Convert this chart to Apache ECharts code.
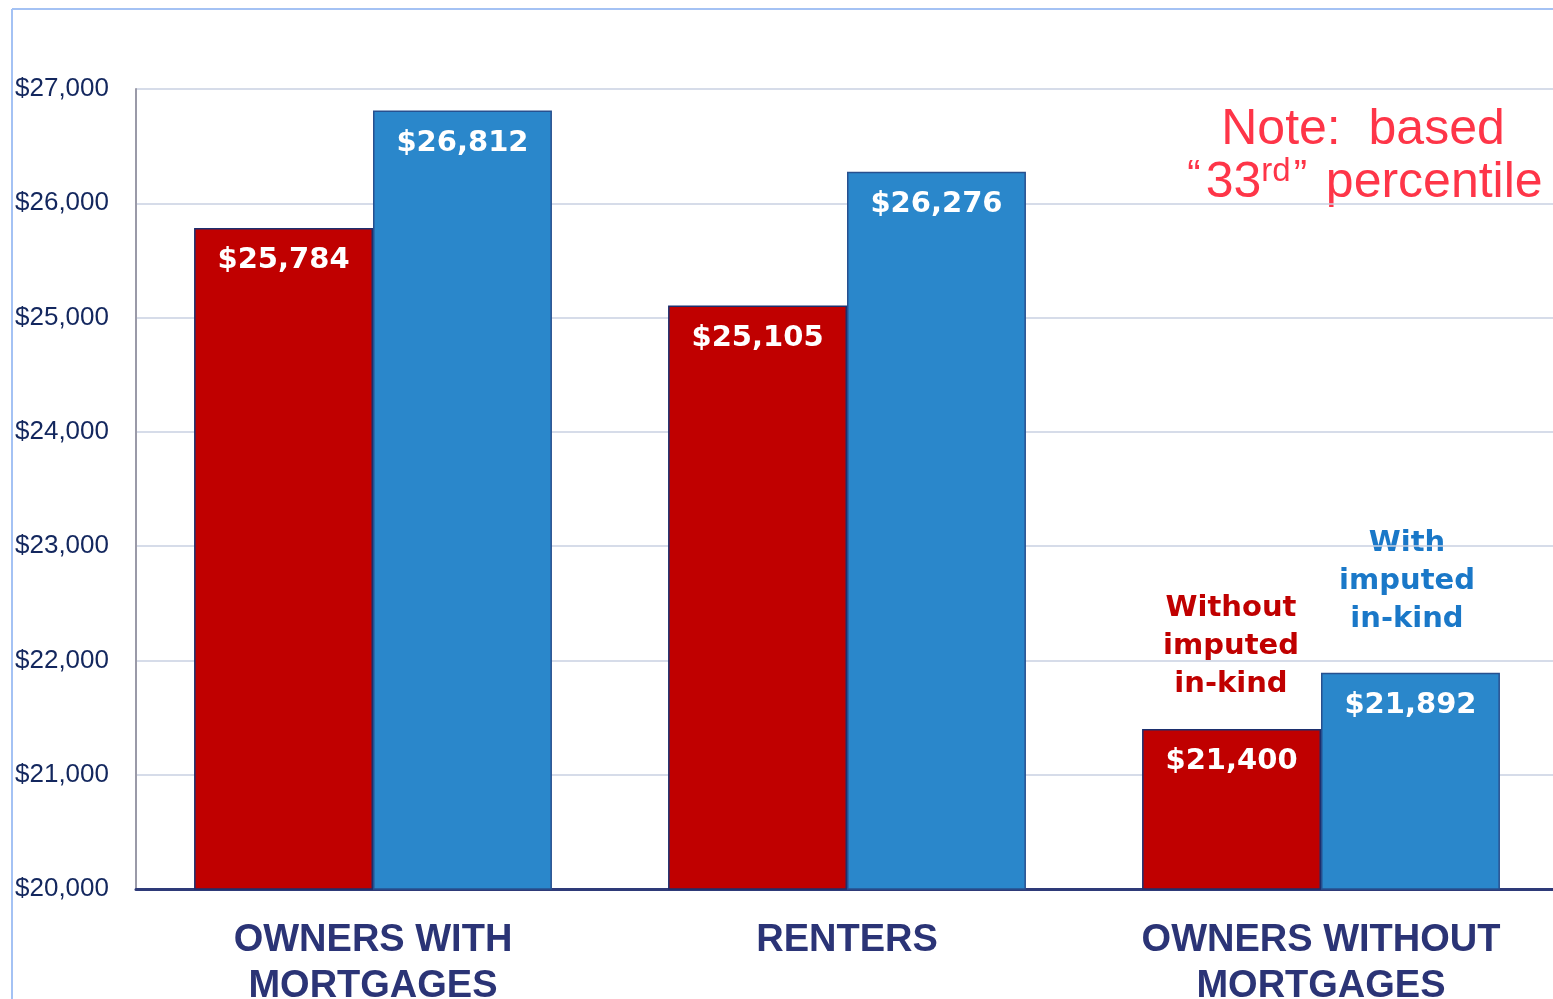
<!DOCTYPE html>
<html><head><meta charset="utf-8">
<script src="https://cdn.jsdelivr.net/npm/echarts@6/dist/echarts.min.js"></script>
<style>html,body{margin:0;padding:0;background:#fff}#c{width:1553px;height:999px}</style>
</head><body><div id="c"></div>
<script>
const categories = ['OWNERS WITH\nMORTGAGES', 'RENTERS', 'OWNERS WITHOUT\nMORTGAGES'];
const withoutInKind = [25784, 25105, 21400];
const withInKind = [26812, 26276, 21892];
const seriesNames = ['Without imputed in-kind', 'With imputed in-kind'];
const yMin = 20000, yMax = 27000, yStep = 1000;

const fmt = v => '$' + v.toLocaleString('en-US');
const chart = echarts.init(document.getElementById('c'));
const valueLabel = {
  show: true, position: 'insideTop', distance: 18,
  formatter: p => fmt(p.value), color: '#fff',
  fontFamily: 'DejaVu Sans', fontWeight: 'bold', fontSize: 29
};
chart.setOption({
  animation: false,
  grid: { left: 136, right: -5, top: 89, bottom: 110, containLabel: false, outerBoundsMode: 'none' },
  xAxis: {
    type: 'category', data: categories,
    axisLine: { lineStyle: { color: '#2e3a78', width: 3 } },
    axisTick: { show: false },
    axisLabel: { margin: 29, color: '#2b3476', fontFamily: 'Liberation Sans', fontWeight: 'bold', fontSize: 38, lineHeight: 46 }
  },
  yAxis: {
    type: 'value', min: yMin, max: yMax, interval: yStep,
    axisLine: { show: true, lineStyle: { color: '#9a9aa8', width: 2 } },
    axisTick: { show: false },
    splitLine: { lineStyle: { color: '#c9d0e2', width: 1.5 } },
    axisLabel: { formatter: fmt, align: 'left', margin: 121, color: '#13275e', fontFamily: 'Liberation Sans', fontSize: 26, padding: [4, 0, 0, 0] }
  },
  series: [
    { name: seriesNames[0], type: 'bar', data: withoutInKind, barGap: '0%', barCategoryGap: '24.5%',
      itemStyle: { color: '#c00000', borderColor: '#1c2f6e', borderWidth: 1.5 }, label: valueLabel },
    { name: seriesNames[1], type: 'bar', data: withInKind,
      itemStyle: { color: '#2a87cb', borderColor: '#27508f', borderWidth: 1.5 }, label: valueLabel }
  ],
  graphic: [
    { type: 'line', shape: { x1: 12, y1: 9, x2: 1553, y2: 9 }, style: { stroke: '#a4c2f4', lineWidth: 2 } },
    { type: 'line', shape: { x1: 12, y1: 9, x2: 12, y2: 999 }, style: { stroke: '#a4c2f4', lineWidth: 2 } },
    { type: 'text', x: 1231, y: 589, style: { text: 'Without\nimputed\nin-kind', align: 'center', verticalAlign: 'top',
      fill: '#c00000', font: 'bold 29px "DejaVu Sans"', lineHeight: 38 } },
    { type: 'text', x: 1407, y: 524, style: { text: 'With\nimputed\nin-kind', align: 'center', verticalAlign: 'top',
      fill: '#1a78c8', font: 'bold 29px "DejaVu Sans"', lineHeight: 38 } },
    { type: 'text', x: 1363, y: 130, style: { text: 'Note:  based', align: 'center', verticalAlign: 'middle',
      fill: '#fe3548', font: '50px "Liberation Sans"' } },
    { type: 'text', x: 1364, y: 183, style: { text: '{q|“}{n|33}{s|rd}{q|”}{n| percentile}', align: 'center', verticalAlign: 'middle',
      fill: '#fe3548',
      rich: {
        n: { fontSize: 50, fontFamily: 'Liberation Sans', fill: '#fe3548', lineHeight: 56 },
        q: { fontSize: 40, fontFamily: 'Liberation Sans', fill: '#fe3548', padding: [0, 5, 12, 2], lineHeight: 56 },
        s: { fontSize: 33, fontFamily: 'Liberation Sans', fill: '#fe3548', padding: [0, 1, 22, 0], lineHeight: 56 }
      } } }
  ]
});
</script></body></html>
